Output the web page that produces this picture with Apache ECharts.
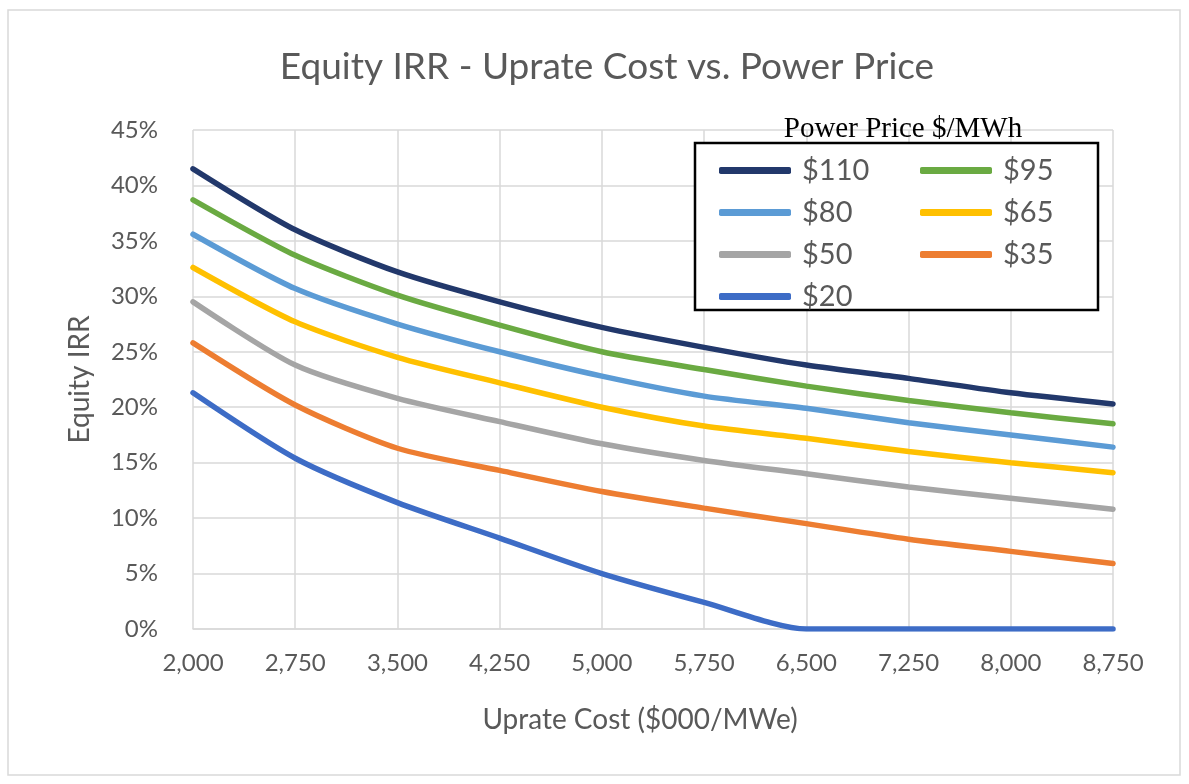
<!DOCTYPE html>
<html>
<head>
<meta charset="utf-8">
<script src="https://cdn.jsdelivr.net/npm/echarts@6/dist/echarts.min.js"></script>
<style>
  html, body { margin: 0; padding: 0; background: #fff; }
  #chart { width: 1189px; height: 784px; }
</style>
</head>
<body>
<div id="chart"></div>
<script>
// x categories: uprate cost ($000/MWe)
var costs = ["2,000", "2,750", "3,500", "4,250", "5,000", "5,750", "6,500", "7,250", "8,000", "8,750"]
var yTicks = [0, 5, 10, 15, 20, 25, 30, 35, 40, 45]

// equity IRR (%) per power price
var irr110 = [41.5, 36.0, 32.2, 29.5, 27.2, 25.4, 23.8, 22.6, 21.3, 20.3]
var irr95 = [38.7, 33.7, 30.1, 27.4, 25.0, 23.4, 21.9, 20.6, 19.5, 18.5]
var irr80 = [35.6, 30.7, 27.5, 25.0, 22.8, 21.0, 19.9, 18.6, 17.5, 16.4]
var irr65 = [32.6, 27.7, 24.5, 22.2, 20.0, 18.3, 17.2, 16.0, 15.0, 14.1]
var irr50 = [29.5, 23.8, 20.8, 18.7, 16.7, 15.2, 14.0, 12.8, 11.8, 10.8]
var irr35 = [25.8, 20.2, 16.3, 14.3, 12.4, 10.9, 9.5, 8.1, 7.0, 5.9]
var irr20 = [21.3, 15.4, 11.4, 8.2, 5.0, 2.4, 0, 0, 0, 0]

var names = ["$110", "$95", "$80", "$65", "$50", "$35", "$20"]
var colors = ["#22386b", "#6aaa42", "#5b9bd5", "#ffc000", "#a5a5a5", "#ed7d31", "#3d6cc6"]
var values = [irr110, irr95, irr80, irr65, irr50, irr35, irr20]

var chart = echarts.init(document.getElementById("chart"))

var seriesList = []
for (var i = values.length - 1; i >= 0; i--) {
  seriesList.push({
    name: names[i],
    type: "line",
    data: values[i],
    smooth: 0.25,
    showSymbol: false,
    color: colors[i],
    lineStyle: { width: 5.5, color: colors[i], cap: "round" }
  })
}

var legendBase = {
  orient: "vertical",
  icon: "roundRect",
  itemWidth: 72,
  itemHeight: 7,
  itemGap: 13,
  textStyle: { color: "#595959", fontSize: 29, fontFamily: "Lato", padding: [0, 0, 0, 6] }
}

var option = {
  backgroundColor: "#fff",
  animation: false,
  title: [
    {
      text: "Equity IRR - Uprate Cost vs. Power Price",
      left: 602,
      textAlign: "center",
      top: 44,
      textStyle: { color: "#595959", fontSize: 37, fontWeight: "normal", fontFamily: "Lato" }
    },
    {
      text: "Power Price $/MWh",
      left: 898,
      textAlign: "center",
      top: 110,
      textStyle: { color: "#000", fontSize: 29, fontWeight: "normal", fontFamily: "Liberation Serif" }
    }
  ],
  legend: [
    Object.assign({}, legendBase, { left: 714, top: 151, data: ["$110", "$80", "$50", "$20"] }),
    Object.assign({}, legendBase, { left: 915, top: 151, data: ["$95", "$65", "$35"] })
  ],
  grid: { left: 193, right: 76, top: 130, bottom: 155 },
  xAxis: {
    type: "category",
    data: costs,
    boundaryGap: false,
    name: "Uprate Cost ($000/MWe)",
    nameLocation: "middle",
    nameGap: 77,
    nameTextStyle: { color: "#595959", fontSize: 28, fontFamily: "Lato", padding: [0, 26, 0, 0] },
    axisLine: { lineStyle: { color: "#d9d9d9", width: 1.5 } },
    axisTick: { show: false },
    axisLabel: { color: "#595959", fontSize: 24, fontFamily: "Lato", margin: 22 },
    splitLine: { show: true, lineStyle: { color: "#d9d9d9", width: 1.5 } }
  },
  yAxis: {
    type: "value",
    min: yTicks[0],
    max: yTicks[yTicks.length - 1],
    interval: 5,
    name: "Equity IRR",
    nameLocation: "middle",
    nameGap: 99,
    nameTextStyle: { color: "#595959", fontSize: 28, fontFamily: "Lato" },
    axisLine: { show: false },
    axisTick: { show: false },
    axisLabel: { color: "#595959", fontSize: 24, fontFamily: "Lato", margin: 35, formatter: "{value}%" },
    splitLine: { show: true, lineStyle: { color: "#d9d9d9", width: 1.5 } }
  },
  graphic: [
    {
      type: "rect",
      shape: { x: 8, y: 10, width: 1172, height: 765 },
      style: { fill: "none", stroke: "#d9d9d9", lineWidth: 1.5 },
      silent: true,
      z: -1
    },
    {
      type: "rect",
      shape: { x: 695, y: 143, width: 403, height: 167 },
      style: { fill: "#fff", stroke: "#000", lineWidth: 2.5 },
      silent: true,
      z: 3
    }
  ],
  series: seriesList
}

chart.setOption(option)
</script>
</body>
</html>
